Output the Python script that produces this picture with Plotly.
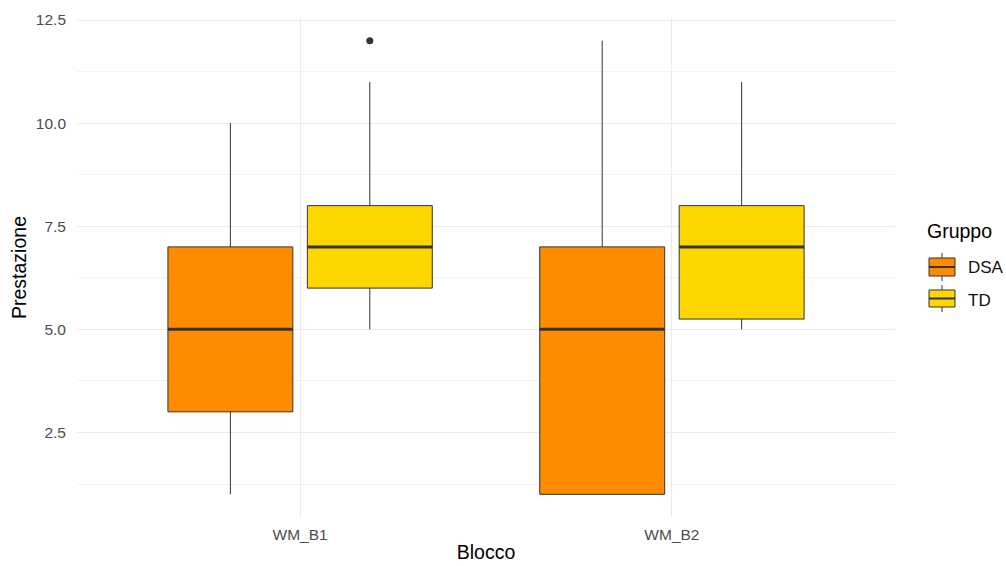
import plotly.graph_objects as go

# Summary statistics per block (Blocco) and group (Gruppo)
blocks = ["WM_B1", "WM_B2"]
groups = ["DSA", "TD"]
colors = {"DSA": "#FF8C00", "TD": "#FFD700"}

q1 = {"DSA": [3, 1], "TD": [6, 5.25]}
median = {"DSA": [5, 5], "TD": [7, 7]}
q3 = {"DSA": [7, 7], "TD": [8, 8]}
lower = {"DSA": [1, 1], "TD": [5, 5]}
upper = {"DSA": [10, 12], "TD": [11, 11]}
outlier_block = ["WM_B1"]
outlier_group = ["TD"]
outlier_value = [12]

y_ticks = [2.5, 5.0, 7.5, 10.0, 12.5]

# layout geometry (ggplot-like dodging)
dodge = 0.1875
box_w = 0.336
offset = {"DSA": -dodge, "TD": dodge}
pos = {b: i + 1 for i, b in enumerate(blocks)}

W, H = 1006, 566
L, R, T, B = 77, 111, 18, 49
line_col = "#333333"
FONT = "Liberation Sans, Arial, sans-serif"

fig = go.Figure()

for g in groups:
    xs = [pos[b] + offset[g] for b in blocks]
    fig.add_trace(go.Box(
        x=xs, q1=q1[g], median=median[g], q3=q3[g],
        lowerfence=lower[g], upperfence=upper[g],
        width=box_w, fillcolor=colors[g],
        line=dict(color=line_col, width=1),
        whiskerwidth=0, boxpoints=False, showlegend=False, name=g,
    ))
    # thicker median segment, as in ggplot
    for x, m in zip(xs, median[g]):
        fig.add_trace(go.Scatter(
            x=[x - box_w / 2, x + box_w / 2], y=[m, m], mode="lines",
            line=dict(color=line_col, width=3), showlegend=False, hoverinfo="skip",
        ))

fig.add_trace(go.Scatter(
    x=[pos[b] + offset[g] for b, g in zip(outlier_block, outlier_group)],
    y=outlier_value, mode="markers",
    marker=dict(color=line_col, size=7), showlegend=False,
))

fig.update_layout(
    width=W, height=H,
    margin=dict(l=L, r=R, t=T, b=B),
    paper_bgcolor="white", plot_bgcolor="white",
    font=dict(family=FONT),
    boxmode="overlay",
)

fig.update_xaxes(
    range=[0.4, 2.6], tickvals=[pos[b] for b in blocks], ticktext=blocks,
    showgrid=True, gridcolor="#EBEBEB", gridwidth=1, zeroline=False,
    showline=False, ticks="", tickfont=dict(size=15.5, color="#4D4D4D"),
    ticklabelstandoff=6, automargin=False,
    title=dict(text="Blocco", font=dict(size=19.5, color="#000000"), standoff=3),
)
fig.update_yaxes(
    range=[0.45, 12.55], tickvals=y_ticks, ticktext=[f"{v:.1f}" for v in y_ticks],
    showgrid=True, gridcolor="#EBEBEB", gridwidth=1, zeroline=False,
    showline=False, ticks="", tickfont=dict(size=15.5, color="#4D4D4D"),
    ticklabelstandoff=10, automargin=False,
    minor=dict(tickvals=[1.25, 3.75, 6.25, 8.75, 11.25], showgrid=True,
               gridcolor="#F3F3F3", gridwidth=1),
    title=dict(text="Prestazione", font=dict(size=19.5, color="#000000"), standoff=4),
)

# legend drawn in pixel units converted to paper coordinates
def px(xp):
    return (xp - L) / (W - L - R)

def py(yp):
    return 1 - (yp - T) / (H - T - B)

fig.add_annotation(x=px(925), y=py(231), xref="paper", yref="paper",
                   text="Gruppo", showarrow=False, xanchor="left", yanchor="middle",
                   font=dict(size=19.5, color="#000000"))
key_rows = {"DSA": (258, 276), "TD": (290, 307)}
label_y = {"DSA": 267, "TD": 300}
for g in groups:
    y0, y1 = key_rows[g]
    cx = 942
    fig.add_shape(type="line", xref="paper", yref="paper",
                  x0=px(cx), x1=px(cx), y0=py(y0 - 5), y1=py(y1 + 5),
                  line=dict(color=line_col, width=1))
    fig.add_shape(type="rect", xref="paper", yref="paper",
                  x0=px(929), x1=px(955), y0=py(y0), y1=py(y1),
                  fillcolor=colors[g], line=dict(color=line_col, width=1))
    fig.add_shape(type="line", xref="paper", yref="paper",
                  x0=px(929), x1=px(955), y0=py((y0 + y1) / 2), y1=py((y0 + y1) / 2),
                  line=dict(color=line_col, width=2))
    fig.add_annotation(x=px(966), y=py(label_y[g]), xref="paper", yref="paper",
                       text=g, showarrow=False, xanchor="left", yanchor="middle",
                       font=dict(size=17, color="#111111"))

fig.write_html("out.html")
